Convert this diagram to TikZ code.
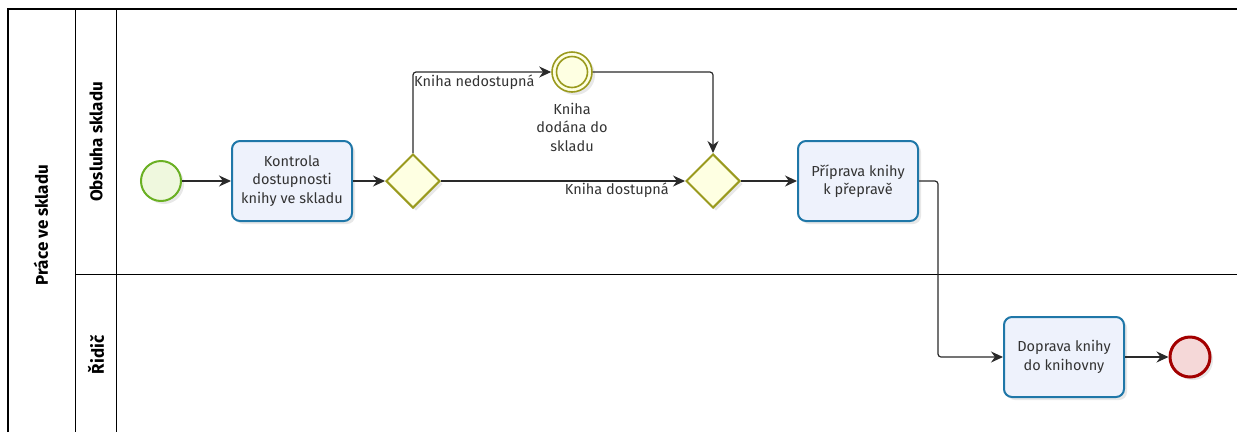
\documentclass[tikz,border=0pt]{standalone}
\usepackage{fontspec}
\setmainfont{Fira Sans}
\usetikzlibrary{arrows.meta,shapes.geometric,shadows}
\definecolor{txt}{HTML}{333333}
\definecolor{taskline}{HTML}{1F77A8}
\definecolor{taskfill}{HTML}{EEF2FC}
\definecolor{gwline}{HTML}{9A9A1E}
\definecolor{gwfill}{HTML}{FEFFE2}
\definecolor{stline}{HTML}{6AB023}
\definecolor{stfill}{HTML}{EFF8DE}
\definecolor{endline}{HTML}{A30000}
\definecolor{endfill}{HTML}{F5D8D8}
\definecolor{flowc}{HTML}{2A2A2A}
\tikzset{
  shd/.style={drop shadow={opacity=0.18, shadow xshift=3pt, shadow yshift=-3pt}},
  taskbox/.style={draw=taskline, line width=2pt, fill=taskfill, rounded corners=8pt,
    minimum width=120pt, minimum height=80pt, align=center, text=txt,
    font=\fontsize{14.5}{18.5}\selectfont, shd},
  gw/.style={diamond, draw=gwline, line width=2pt, fill=gwfill, minimum width=54pt,
    minimum height=54pt, inner sep=0pt, shd},
  startev/.style={circle, draw=stline, line width=2pt, fill=stfill, minimum size=40pt, inner sep=0pt, shd},
  endev/.style={circle, draw=endline, line width=3pt, fill=endfill, minimum size=40pt, inner sep=0pt, shd},
  interev/.style={circle, draw=gwline, line width=1.6pt, fill=gwfill, minimum size=40pt, inner sep=0pt, shd},
  flow/.style={draw=flowc, line width=1.2pt, rounded corners=3pt, -{Stealth[length=12pt,width=11pt]}},
  lbl/.style={text=txt, font=\fontsize{14.5}{18.5}\selectfont, inner sep=0pt, align=center},
  lane/.style={draw=black, line width=0.9pt},
  lanetitle/.style={rotate=90, font=\bfseries\fontsize{17}{19}\selectfont, text=black}
}
\begin{document}
\begin{tikzpicture}[x=1pt,y=-1pt]
\useasboundingbox (0,0) rectangle (1237,432);
% pool and lanes
\draw[black, line width=1.8pt] (8,432) -- (8,9) -- (1237,9);
\draw[lane] (75,9) -- (75,432);
\draw[lane] (116,9) -- (116,432);
\draw[lane] (75,274) -- (1237,274);
\node[lanetitle] (pool) at (41,225) {Práce ve skladu};
\node[lanetitle] (lane1) at (96,142) {Obsluha skladu};
\node[lanetitle] (lane2) at (96,355) {Řidič};
% elements
\node[startev] (s) at (161,181) {};
\node[taskbox] (t1) at (292,181) {Kontrola\\dostupnosti\\knihy ve skladu};
\node[gw] (g1) at (413,181) {};
\node[interev] (ie) at (572,72) {};
\draw[gwline, line width=1.6pt] (ie.center) circle (15.5pt);
\node[gw] (g2) at (713,181) {};
\node[taskbox] (t2) at (858,181) {Příprava knihy\\k přepravě};
\node[taskbox] (t3) at (1064,357) {Doprava knihy\\do knihovny};
\node[endev] (e) at (1190,357) {};
% labels
\node[lbl, anchor=west] (l1) at (414,82) {Kniha nedostupná};
\node[lbl] (l2) at (572,127) {Kniha\\dodána do\\skladu};
\node[lbl, anchor=east] (l3) at (669,190) {Kniha dostupná};
% flows
\coordinate (c1) at (938,181);
\draw[flow] (s) -- (t1);
\draw[flow] (t1) -- (g1);
\draw[flow] (g1.north) |- (ie.west);
\draw[flow] (ie.east) -| (g2.north);
\draw[flow] (g1.east) -- (g2.west);
\draw[flow] (g2.east) -- (t2.west);
\draw[flow] (t2.east) -- (c1) |- (t3.west);
\draw[flow] (t3.east) -- (e.west);
\end{tikzpicture}
\end{document}
